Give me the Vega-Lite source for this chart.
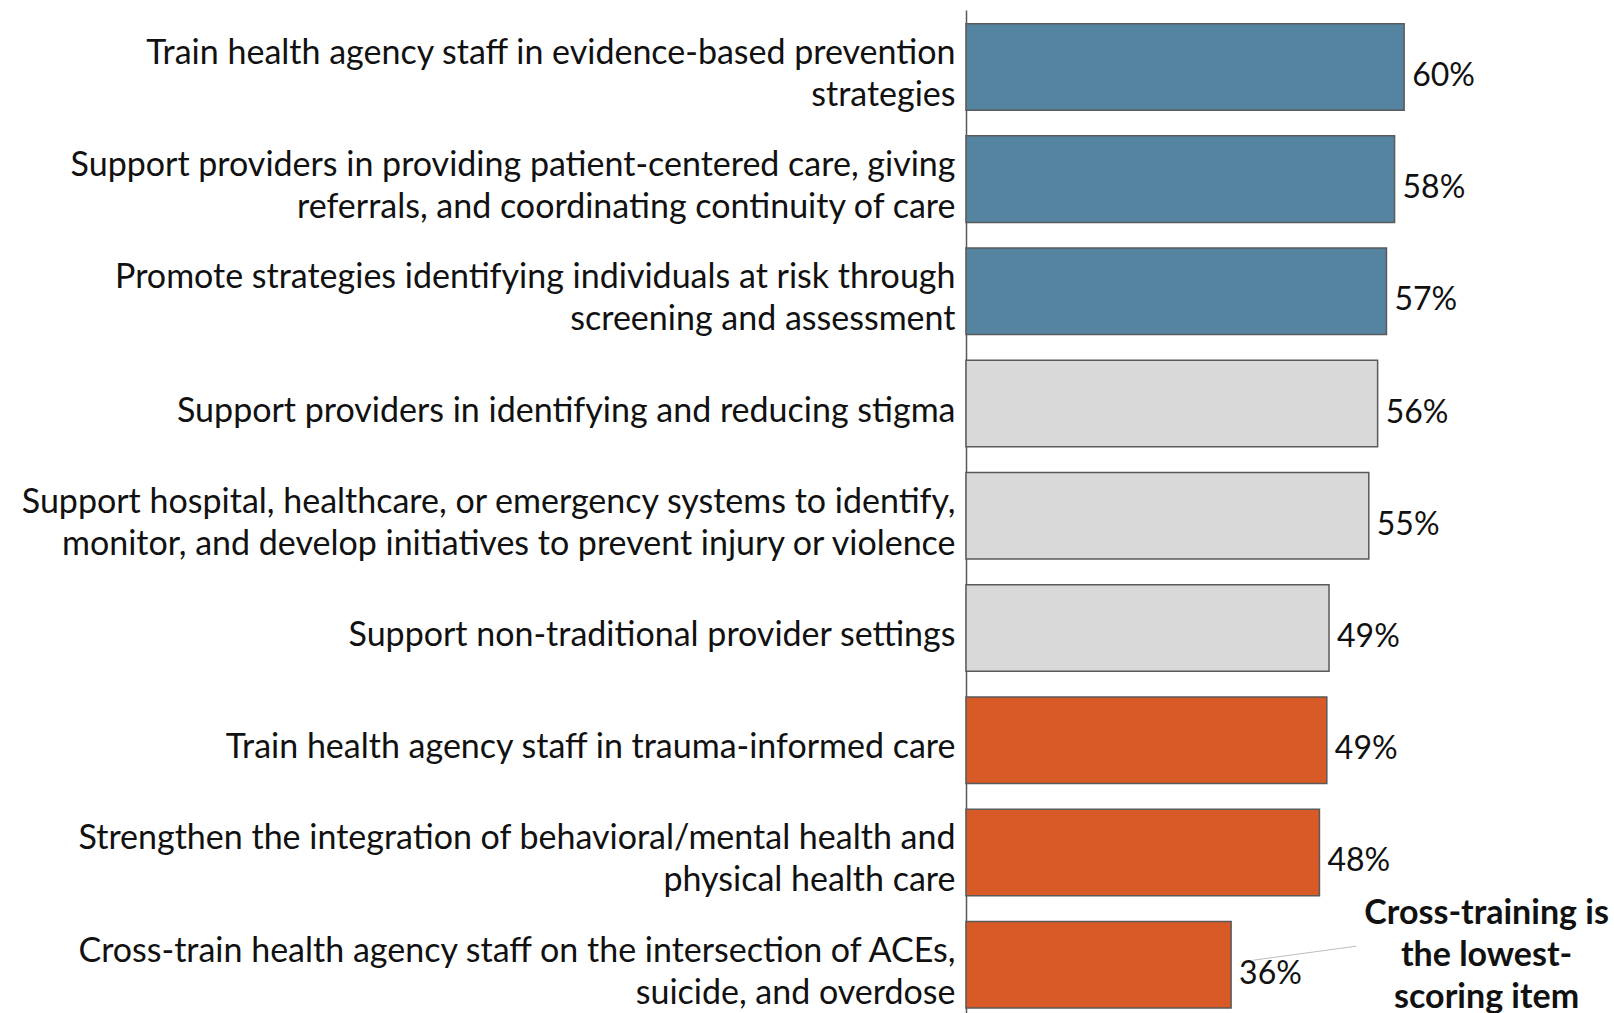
{
  "$schema": "https://vega.github.io/schema/vega-lite/v6.json",
  "width": 648,
  "height": 1003,
  "autosize": {"type": "none"},
  "padding": {"left": 966, "top": 10, "right": 0, "bottom": 0},
  "background": "white",
  "config": {"view": {"stroke": null}, "font": "Lato"},
  "datasets": {
    "bars": [
      {"item": "Train health agency staff in evidence-based prevention|strategies", "value": 59.5, "pct": "60%", "group": "top"},
      {"item": "Support providers in providing patient-centered care, giving|referrals, and coordinating continuity of care", "value": 58.2, "pct": "58%", "group": "top"},
      {"item": "Promote strategies identifying individuals at risk through|screening and assessment", "value": 57.1, "pct": "57%", "group": "top"},
      {"item": "Support providers in identifying and reducing stigma", "value": 55.9, "pct": "56%", "group": "mid"},
      {"item": "Support hospital, healthcare, or emergency systems to identify,|monitor, and develop initiatives to prevent injury or violence", "value": 54.7, "pct": "55%", "group": "mid"},
      {"item": "Support non-traditional provider settings", "value": 49.3, "pct": "49%", "group": "mid"},
      {"item": "Train health agency staff in trauma-informed care", "value": 49.0, "pct": "49%", "group": "low"},
      {"item": "Strengthen the integration of behavioral/mental health and|physical health care", "value": 48.0, "pct": "48%", "group": "low"},
      {"item": "Cross-train health agency staff on the intersection of ACEs,|suicide, and overdose", "value": 36.0, "pct": "36%", "group": "low"}
    ],
    "note": [
      {"item": "Cross-train health agency staff on the intersection of ACEs,|suicide, and overdose", "x": 39, "x2": 53, "tx": 70.7, "text": "Cross-training is|the lowest-|scoring item"}
    ]
  },
  "layer": [
    {
      "data": {"name": "bars"},
      "mark": {"type": "bar", "stroke": "#5a5a5a", "strokeWidth": 1.5},
      "encoding": {
        "y": {
          "field": "item", "type": "nominal", "sort": null,
          "scale": {"paddingInner": 0.229, "paddingOuter": 0.0833, "align": 0.73},
          "axis": {
            "title": null, "ticks": false, "domain": true, "domainColor": "#595959", "domainWidth": 1.5,
            "labelExpr": "split(datum.value, '|')", "labelLineHeight": 42,
            "labelFont": "Lato", "labelFontSize": 34, "labelColor": "#111111",
            "labelPadding": 11, "labelLimit": 1000, "labelAlign": "right", "labelBaseline": "middle",
            "labelOffset": {"condition": {"test": "indexof(datum.value, '|') >= 0", "value": -13}, "value": 8}
          }
        },
        "x": {"field": "value", "type": "quantitative", "scale": {"domain": [0, 88], "nice": false, "zero": true}, "axis": null},
        "color": {"field": "group", "type": "nominal", "scale": {"domain": ["top", "mid", "low"], "range": ["#5584a0", "#d9d9d9", "#d85a27"]}, "legend": null}
      }
    },
    {
      "data": {"name": "bars"},
      "mark": {"type": "text", "align": "left", "baseline": "middle", "dx": 8, "dy": 9, "font": "Lato", "fontSize": 32, "color": "#111111"},
      "encoding": {
        "y": {"field": "item", "type": "nominal", "sort": null},
        "x": {"field": "value", "type": "quantitative"},
        "text": {"field": "pct"}
      }
    },
    {
      "data": {"name": "note"},
      "mark": {"type": "rule", "color": "#bdbdbd", "strokeWidth": 1, "yOffset": -4.5, "y2Offset": -18.5},
      "encoding": {
        "y": {"field": "item", "type": "nominal", "sort": null},
        "y2": {"field": "item"},
        "x": {"field": "x", "type": "quantitative"},
        "x2": {"field": "x2"}
      }
    },
    {
      "data": {"name": "note"},
      "mark": {"type": "text", "align": "center", "baseline": "middle", "lineBreak": "|", "lineHeight": 42, "dy": -51, "font": "Lato", "fontSize": 34, "fontWeight": "bold", "color": "#111111"},
      "encoding": {
        "y": {"field": "item", "type": "nominal", "sort": null},
        "x": {"field": "tx", "type": "quantitative"},
        "text": {"field": "text"}
      }
    }
  ]
}
